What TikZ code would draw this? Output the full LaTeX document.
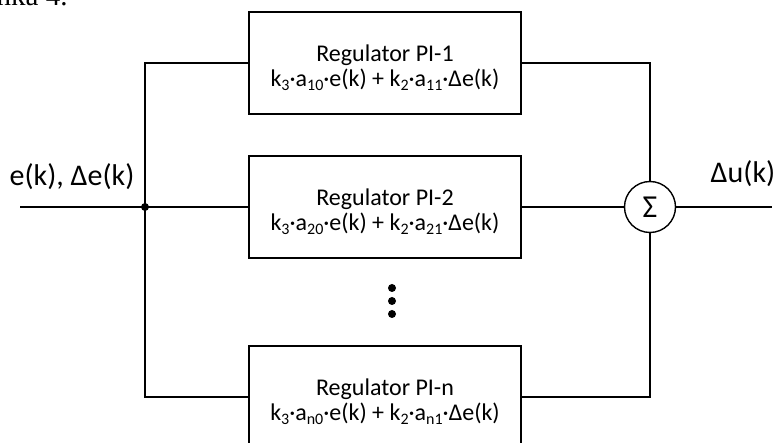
\documentclass[tikz,border=0pt]{standalone}
\usepackage{fontspec}
\setmainfont{Carlito}
\newfontfamily\capserif{Liberation Serif}
\newcommand{\sbs}[1]{\raisebox{-4pt}{\fontsize{16}{16}\selectfont #1}}
\begin{document}
\begin{tikzpicture}[x=1pt,y=-1pt, line width=1.4pt,
  pibox/.style={draw, minimum width=272pt, minimum height=102pt, inner sep=0pt},
  boxtext/.style={align=center, inner sep=0pt, font=\fontsize{24}{25}\selectfont},
  lab/.style={font=\fontsize{30}{30}\selectfont, inner sep=0pt},
  dotmark/.style={circle, fill, inner sep=0pt, minimum size=8pt},
  sumnode/.style={circle, draw, minimum size=51pt, inner sep=0pt, font=\fontsize{32}{32}\selectfont}]
\useasboundingbox (0,0) rectangle (777,443);
\clip (0,0) rectangle (777,443);
\node[font=\capserif\fontsize{29}{29}\selectfont, anchor=base west, inner sep=0pt] (cap) at (-4,6) {nka 4.};
\node[pibox] (b1) at (385,63) {};
\node[pibox] (b2) at (385,207) {};
\node[pibox] (b3) at (385,397) {};
\node[boxtext] (t1) at (385,68) {Regulator PI-1\\k\sbs{3}·a\sbs{10}·e(k) + k\sbs{2}·a\sbs{11}·Δe(k)};
\node[boxtext] (t2) at (385,212) {Regulator PI-2\\k\sbs{3}·a\sbs{20}·e(k) + k\sbs{2}·a\sbs{21}·Δe(k)};
\node[boxtext] (t3) at (385,402) {Regulator PI-n\\k\sbs{3}·a\sbs{n0}·e(k) + k\sbs{2}·a\sbs{n1}·Δe(k)};
\node[sumnode] (sum) at (650,207) {Σ};
\coordinate (in) at (20,207);
\coordinate (out) at (772,207);
\node[dotmark] (j) at (145,207) {};
\node[dotmark] (d1) at (392,288) {};
\node[dotmark] (d2) at (392,301) {};
\node[dotmark] (d3) at (392,314) {};
\node[lab] (lin) at (72,177) {e(k), Δe(k)};
\node[lab] (lout) at (743,174) {Δu(k)};
\draw (in) -- (b2.west);
\draw (b1.west) -| (j.center) |- (b3.west);
\draw (b2.east) -- (sum.west);
\draw (b1.east) -| (sum.north);
\draw (b3.east) -| (sum.south);
\draw (sum.east) -- (out);
\end{tikzpicture}
\end{document}
